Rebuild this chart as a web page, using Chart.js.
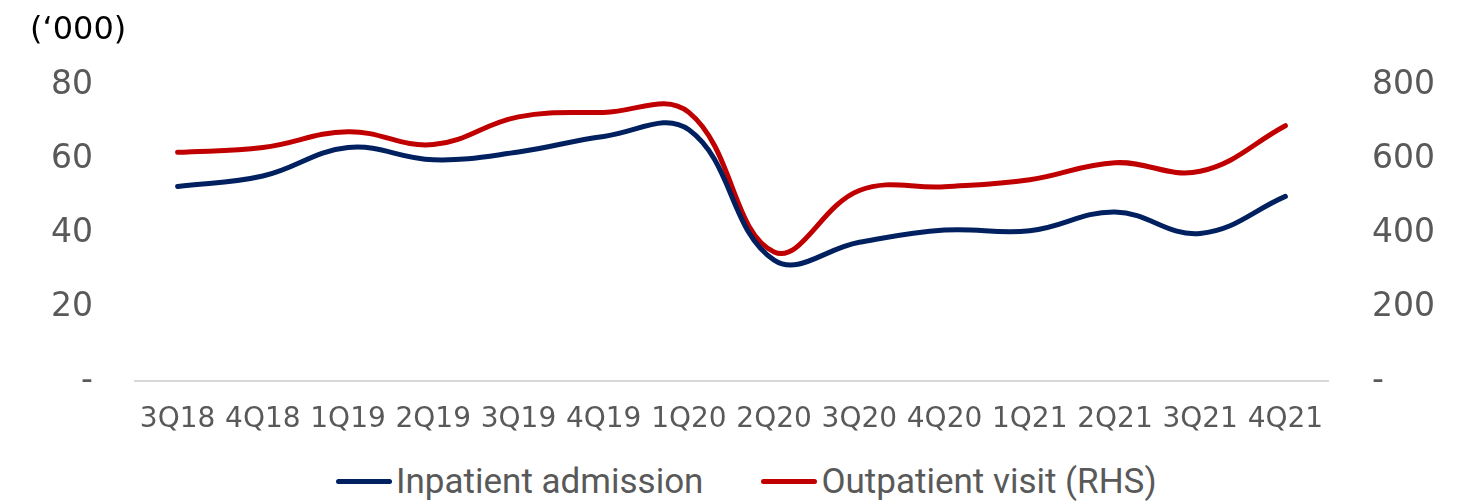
<!DOCTYPE html>
<html>
<head>
<meta charset="utf-8">
<script src="https://cdn.jsdelivr.net/npm/chart.js@4"></script>
<style>
  html, body { margin: 0; padding: 0; background: #fff; }
  #wrap { width: 1471px; height: 461px; }
  #legend {
    width: 1471px; height: 41px;
    display: flex; align-items: center;
    padding-left: 336px; box-sizing: border-box;
    font-family: Roboto, 'Liberation Sans', sans-serif;
    font-size: 35px; color: #595959;
  }
  #legend .item { display: flex; align-items: center; white-space: nowrap; }
  #legend .item + .item { margin-left: 58px; }
  #legend .swatch { width: 56px; height: 5px; border-radius: 3px; margin-right: 4px; }
</style>
</head>
<body>
<div id="wrap"><canvas id="chart" width="1471" height="461"></canvas></div>
<div id="legend"></div>
<script>
// Quarterly hospital activity, thousands
const quarters = ['3Q18', '4Q18', '1Q19', '2Q19', '3Q19', '4Q19', '1Q20',
                  '2Q20', '3Q20', '4Q20', '1Q21', '2Q21', '3Q21', '4Q21'];
const inpatient = [52.7, 55.5, 63.2, 59.9, 62.0, 66.2, 68.0, 32.8, 37.6, 40.9, 40.7, 45.8, 40.0, 50.0];
const outpatient = [619, 632, 675, 640, 715, 727, 727, 350, 516, 526, 545, 591, 568, 691];
const leftTicks = [0, 20, 40, 60, 80];
const rightTicks = [0, 200, 400, 600, 800];

const GREY = '#595959';
const TICK_FONT = "'DejaVu Sans', sans-serif";

Chart.defaults.color = GREY;
Chart.defaults.font.family = TICK_FONT;

const dashZero = v => (v === 0 ? '-' : v);

const chart = new Chart(document.getElementById('chart'), {
    type: 'line',
    data: {
        labels: quarters,
        datasets: [
            {
                label: 'Inpatient admission',
                data: inpatient,
                yAxisID: 'y',
                borderColor: '#002060',
                backgroundColor: '#002060',
                borderWidth: 5,
                borderCapStyle: 'round',
                tension: 0.4,
                pointRadius: 0,
            },
            {
                label: 'Outpatient visit (RHS)',
                data: outpatient,
                yAxisID: 'y1',
                borderColor: '#C00000',
                backgroundColor: '#C00000',
                borderWidth: 5,
                borderCapStyle: 'round',
                tension: 0.4,
                pointRadius: 0,
            },
        ],
    },
    options: {
        responsive: false,
        animation: false,
        layout: { padding: { left: 30, right: 35, top: 8, bottom: 2 } },
        scales: {
            x: {
                offset: true,
                grid: { display: false, drawTicks: false },
                border: { display: true, color: '#d9d9d9', width: 2 },
                ticks: { font: { size: 28 }, padding: 22, maxRotation: 0, autoSkip: false },
            },
            y: {
                position: 'left',
                min: 0,
                max: 80,
                afterBuildTicks: s => { s.ticks = leftTicks.map(v => ({ value: v })); },
                afterFit: s => { s.width = 105; },
                grid: { display: false, drawTicks: false },
                border: { display: false },
                ticks: { font: { size: 33 }, padding: 42, callback: dashZero },
            },
            y1: {
                position: 'right',
                min: 0,
                max: 800,
                afterBuildTicks: s => { s.ticks = rightTicks.map(v => ({ value: v })); },
                afterFit: s => { s.width = 108; },
                grid: { display: false, drawTicks: false },
                border: { display: false },
                ticks: { font: { size: 33 }, padding: 44, callback: dashZero },
            },
        },
        plugins: {
            title: {
                display: true,
                text: '(\u2018000)',
                align: 'start',
                color: '#000',
                font: { family: TICK_FONT, size: 32, weight: 'normal' },
                padding: { top: 3, bottom: 36 },
            },
            legend: { display: false },
            tooltip: { enabled: false },
        },
    },
});

// HTML legend, built from the datasets
const legendEl = document.getElementById('legend');
chart.data.datasets.forEach(ds => {
    const item = document.createElement('div');
    item.className = 'item';
    const sw = document.createElement('span');
    sw.className = 'swatch';
    sw.style.background = ds.borderColor;
    const txt = document.createElement('span');
    txt.textContent = ds.label;
    item.append(sw, txt);
    legendEl.appendChild(item);
});
</script>
</body>
</html>
